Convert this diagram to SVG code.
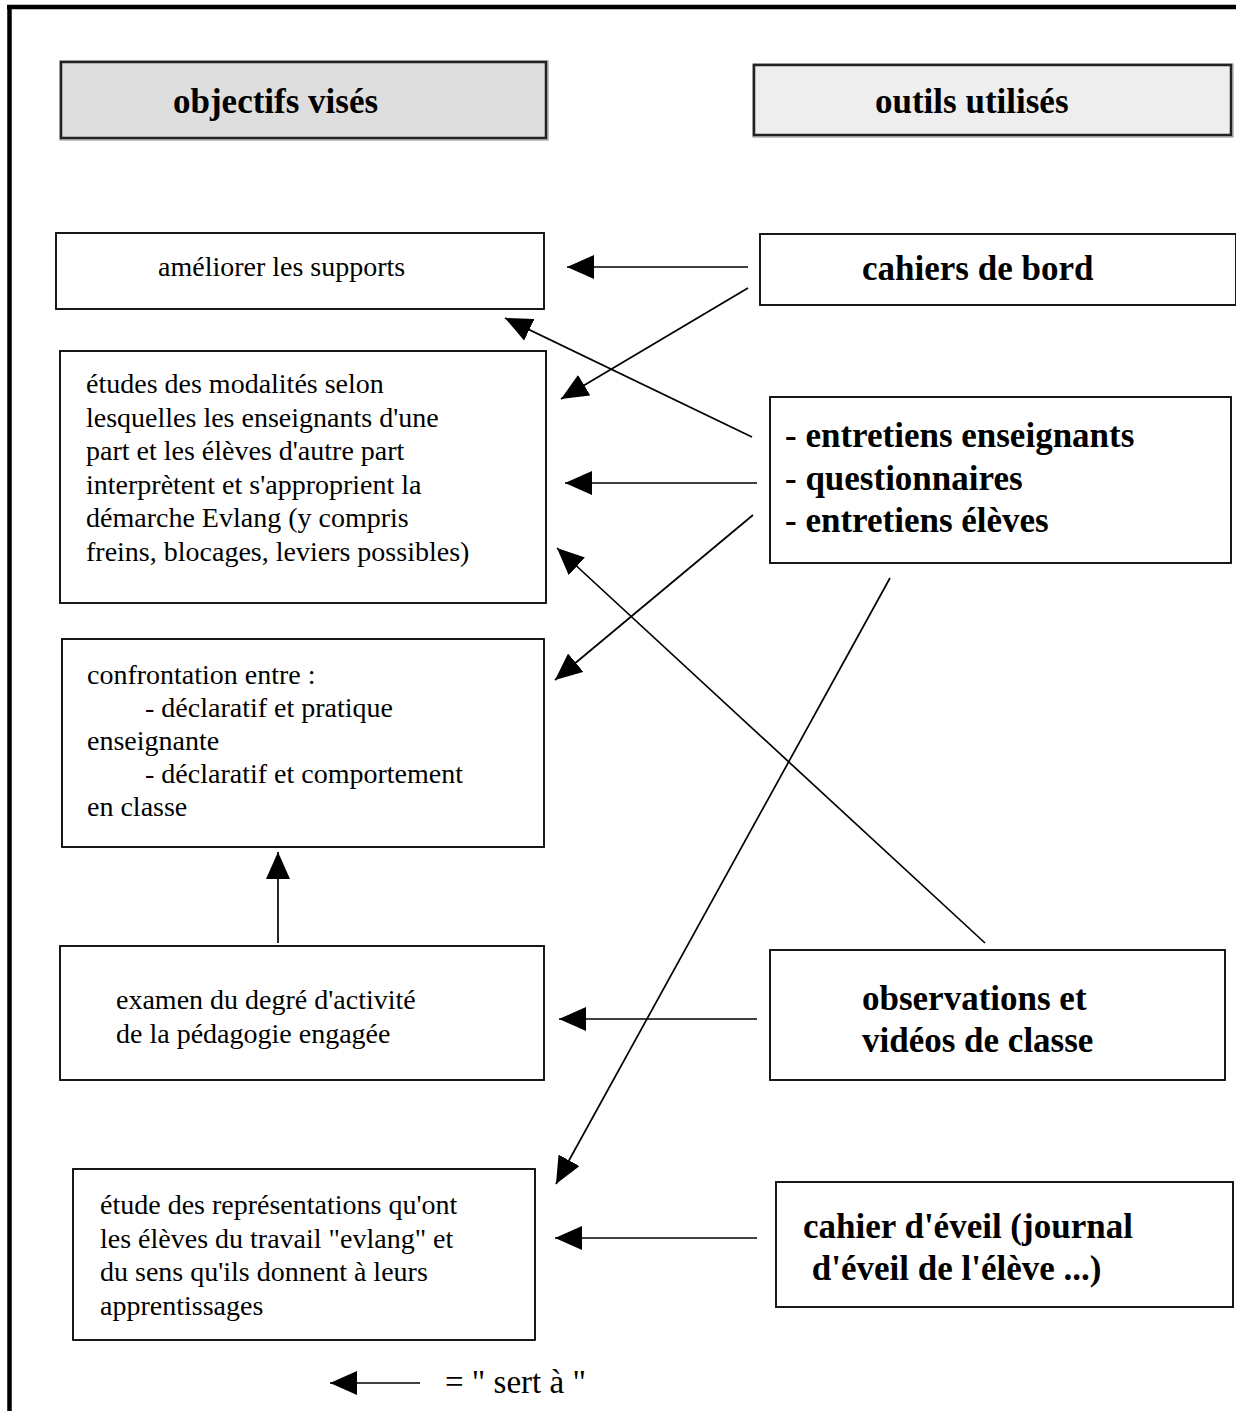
<svg xmlns="http://www.w3.org/2000/svg" width="1236" height="1411" viewBox="0 0 1236 1411">
<style>
.box{fill:#fff;stroke:#000;stroke-width:1.8}
.hdr{stroke:#222;stroke-width:2.5}
.shadow{fill:none;stroke:#888;stroke-width:1}
.t{font-family:"Liberation Serif","Times New Roman",serif;font-size:28px;fill:#000}
.b{font-family:"Liberation Serif","Times New Roman",serif;font-size:35px;font-weight:bold;fill:#000}
.c{stroke:#000;stroke-width:1.7;fill:none;marker-end:url(#ah)}
</style>
<defs>
<marker id="ah" markerUnits="userSpaceOnUse" markerWidth="28" markerHeight="24" refX="27" refY="12" orient="auto">
<path d="M0,0 L27,12 L0,24 Z" fill="#000"/>
</marker>
</defs>
<rect width="1236" height="1411" fill="#fff"/>
<g id="frame">
<line x1="7" y1="7" x2="1236" y2="7" stroke="#000" stroke-width="4.5"/>
<line x1="9.5" y1="5" x2="9.5" y2="1411" stroke="#000" stroke-width="4.5"/>
</g>
<g id="hdr-objectifs">
<rect class="shadow" x="60" y="61" width="488" height="79"/>
<rect class="hdr" x="61" y="62" width="485" height="76" fill="#dedede"/>
<text class="b" x="173" y="113">objectifs visés</text>
</g>
<g id="hdr-outils">
<rect class="shadow" x="753" y="64" width="480" height="73"/>
<rect class="hdr" x="754" y="65" width="477" height="70" fill="#eeeeee"/>
<text class="b" x="875" y="113">outils utilisés</text>
</g>
<g id="n-ameliorer">
<rect class="box" x="56" y="233" width="488" height="76"/>
<text class="t" x="158" y="276">améliorer les supports</text>
</g>
<g id="n-etudes">
<rect class="box" x="60" y="351" width="486" height="252"/>
<text class="t" x="86" y="393">études des modalités selon</text>
<text class="t" x="86" y="427">lesquelles les enseignants d'une</text>
<text class="t" x="86" y="460">part et les élèves d'autre part</text>
<text class="t" x="86" y="494">interprètent et s'approprient la</text>
<text class="t" x="86" y="527">démarche Evlang (y compris</text>
<text class="t" x="86" y="561">freins, blocages, leviers possibles)</text>
</g>
<g id="n-confrontation">
<rect class="box" x="62" y="639" width="482" height="208"/>
<text class="t" x="87" y="684">confrontation entre :</text>
<text class="t" x="145" y="717">- déclaratif et pratique</text>
<text class="t" x="87" y="750">enseignante</text>
<text class="t" x="145" y="783">- déclaratif et comportement</text>
<text class="t" x="87" y="816">en classe</text>
</g>
<g id="n-examen">
<rect class="box" x="60" y="946" width="484" height="134"/>
<text class="t" x="116" y="1009">examen du degré d'activité</text>
<text class="t" x="116" y="1043">de la pédagogie engagée</text>
</g>
<g id="n-etude-repr">
<rect class="box" x="73" y="1169" width="462" height="171"/>
<text class="t" x="100" y="1214">étude des représentations qu'ont</text>
<text class="t" x="100" y="1248">les élèves du travail "evlang" et</text>
<text class="t" x="100" y="1281">du sens qu'ils donnent à leurs</text>
<text class="t" x="100" y="1315">apprentissages</text>
</g>
<g id="n-cahiers-bord">
<rect class="box" x="760" y="234" width="476" height="71"/>
<text class="b" x="862" y="280">cahiers de bord</text>
</g>
<g id="n-entretiens">
<rect class="box" x="770" y="397" width="461" height="166"/>
<text class="b" x="785" y="447">- entretiens enseignants</text>
<text class="b" x="785" y="490">- questionnaires</text>
<text class="b" x="785" y="532">- entretiens élèves</text>
</g>
<g id="n-observations">
<rect class="box" x="770" y="950" width="455" height="130"/>
<text class="b" x="862" y="1010">observations et</text>
<text class="b" x="862" y="1052">vidéos de classe</text>
</g>
<g id="n-cahier-eveil">
<rect class="box" x="776" y="1182" width="457" height="125"/>
<text class="b" x="803" y="1238">cahier d'éveil (journal</text>
<text class="b" x="803" y="1280" xml:space="preserve"> d'éveil de l'élève ...)</text>
</g>
<g id="connectors">
<line class="c" x1="748" y1="267" x2="567" y2="267"/>
<line class="c" x1="748" y1="288" x2="561" y2="399"/>
<line class="c" x1="752" y1="437" x2="505" y2="318"/>
<line class="c" x1="757" y1="483" x2="565" y2="483"/>
<line class="c" x1="753" y1="515" x2="555" y2="680"/>
<line class="c" x1="890" y1="578" x2="556" y2="1184"/>
<line class="c" x1="985" y1="943" x2="557" y2="548"/>
<line class="c" x1="757" y1="1019" x2="559" y2="1019"/>
<line class="c" x1="278" y1="943" x2="278" y2="852"/>
<line class="c" x1="757" y1="1238" x2="555" y2="1238"/>
</g>
<g id="legend">
<line class="c" x1="420" y1="1383" x2="330" y2="1383"/>
<text class="t" x="445" y="1393" style="font-size:33px">= " sert à "</text>
</g>
</svg>
